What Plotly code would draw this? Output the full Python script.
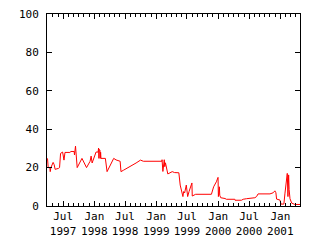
import plotly.graph_objects as go

dates = [
    "1997-03-31", "1997-04-04", "1997-04-14", "1997-04-16", "1997-04-20", "1997-05-03",
    "1997-05-09", "1997-05-15", "1997-06-04", "1997-06-10", "1997-06-16", "1997-06-28",
    "1997-07-06", "1997-07-12", "1997-08-10", "1997-08-16", "1997-09-04", "1997-09-06",
    "1997-09-12", "1997-09-16", "1997-09-22", "1997-10-20", "1997-11-16", "1997-12-07",
    "1997-12-13", "1997-12-19", "1998-01-01", "1998-01-11", "1998-01-23", "1998-01-26",
    "1998-01-28", "1998-01-30", "1998-02-01", "1998-02-03", "1998-02-05", "1998-02-07",
    "1998-02-09", "1998-03-07", "1998-03-17", "1998-04-25", "1998-05-09", "1998-06-02",
    "1998-06-07", "1998-06-21", "1998-07-27", "1998-09-04", "1998-09-30", "1998-10-17",
    "1999-02-03", "1999-02-04", "1999-02-09", "1999-02-17", "1999-02-20", "1999-02-24",
    "1999-03-10", "1999-04-05", "1999-04-19", "1999-05-14", "1999-05-22", "1999-05-28",
    "1999-06-07", "1999-06-11", "1999-06-17", "1999-06-27", "1999-07-05", "1999-07-13",
    "1999-07-21", "1999-07-30", "1999-08-01", "1999-08-13", "1999-08-21", "1999-11-22",
    "1999-12-05", "1999-12-21", "1999-12-31", "2000-01-02", "2000-01-08", "2000-01-10",
    "2000-01-16", "2000-02-10", "2000-02-18", "2000-04-08", "2000-04-09", "2000-05-17",
    "2000-05-27", "2000-06-16", "2000-07-05", "2000-08-04", "2000-08-14", "2000-08-23",
    "2000-11-01", "2000-11-20", "2000-11-30", "2000-12-06", "2000-12-10", "2000-12-30",
    "2001-01-05", "2001-01-22", "2001-01-28", "2001-02-03", "2001-02-11", "2001-02-15",
    "2001-02-19", "2001-02-22", "2001-02-27", "2001-03-09", "2001-03-28", "2001-04-27",
]
values = [
    24.8, 20.0, 20.0, 17.9, 20.0, 22.7,
    21.6, 19.1, 19.6, 20.0, 27.4, 28.1,
    23.9, 27.9, 27.9, 28.4, 28.4, 26.6,
    31.2, 26.0, 20.0, 24.8, 20.0, 23.3,
    26.0, 22.4, 25.5, 28.1, 28.1, 30.2,
    24.8, 29.5, 25.0, 29.0, 24.8, 28.0,
    24.8, 24.8, 17.9, 24.8, 24.0, 23.3,
    17.9, 18.6, 20.3, 22.4, 23.9, 23.3,
    23.3, 24.1, 18.0, 24.1, 20.5, 22.5,
    16.7, 17.9, 17.4, 17.3, 10.9, 8.3,
    4.9, 7.5, 6.8, 10.9, 4.9, 7.5,
    9.2, 12.0, 5.2, 5.6, 6.1, 6.1,
    10.0, 12.6, 14.9, 4.9, 10.0, 5.6,
    4.3, 3.9, 3.5, 3.5, 3.0, 3.0,
    3.5, 3.8, 4.1, 4.3, 4.9, 6.3,
    6.3, 6.9, 7.9, 6.9, 3.6, 3.1,
    1.0, 1.0, 6.3, 10.0, 17.0, 4.9,
    16.2, 8.5, 3.8, 1.5, 0.8, 0.8,
]

x_tick_dates = ["1997-07-01", "1998-01-01", "1998-07-01", "1999-01-01",
                "1999-07-01", "2000-01-01", "2000-07-01", "2001-01-01"]
x_tick_text = ["Jul<br>1997", "Jan<br>1998", "Jul<br>1998", "Jan<br>1999",
               "Jul<br>1999", "Jan<br>2000", "Jul<br>2000", "Jan<br>2001"]
y_ticks = [0, 20, 40, 60, 80, 100]

fig = go.Figure()
fig.add_trace(go.Scatter(x=dates, y=values, mode="lines",
                         line=dict(color="#ff0000", width=1)))

fig.update_layout(
    width=320, height=240,
    margin=dict(l=47, r=20, t=14, b=34, autoexpand=False),
    paper_bgcolor="white", plot_bgcolor="white",
    showlegend=False,
    font=dict(family="DejaVu Sans Mono", size=11, color="black"),
)
fig.update_xaxes(
    range=["1997-03-28", "2001-04-27"], automargin=False,
    tickmode="array", tickvals=x_tick_dates, ticktext=x_tick_text,
    ticks="inside", ticklen=5, tickwidth=1, tickcolor="black",
    showline=True, linecolor="black", linewidth=1, mirror="ticks",
    showgrid=False, zeroline=False, ticklabelstandoff=0,
    minor=dict(ticks="inside", dtick="M1", tick0="1997-01-01", ticklen=3,
               tickcolor="black", showgrid=False),
)
fig.update_yaxes(
    range=[0, 100], tickmode="array", tickvals=y_ticks, automargin=False,
    ticks="inside", ticklen=5, tickwidth=1, tickcolor="black",
    showline=True, linecolor="black", linewidth=1, mirror="ticks",
    showgrid=False, zeroline=False, ticklabelstandoff=5,
)

fig.write_html("out.html")
